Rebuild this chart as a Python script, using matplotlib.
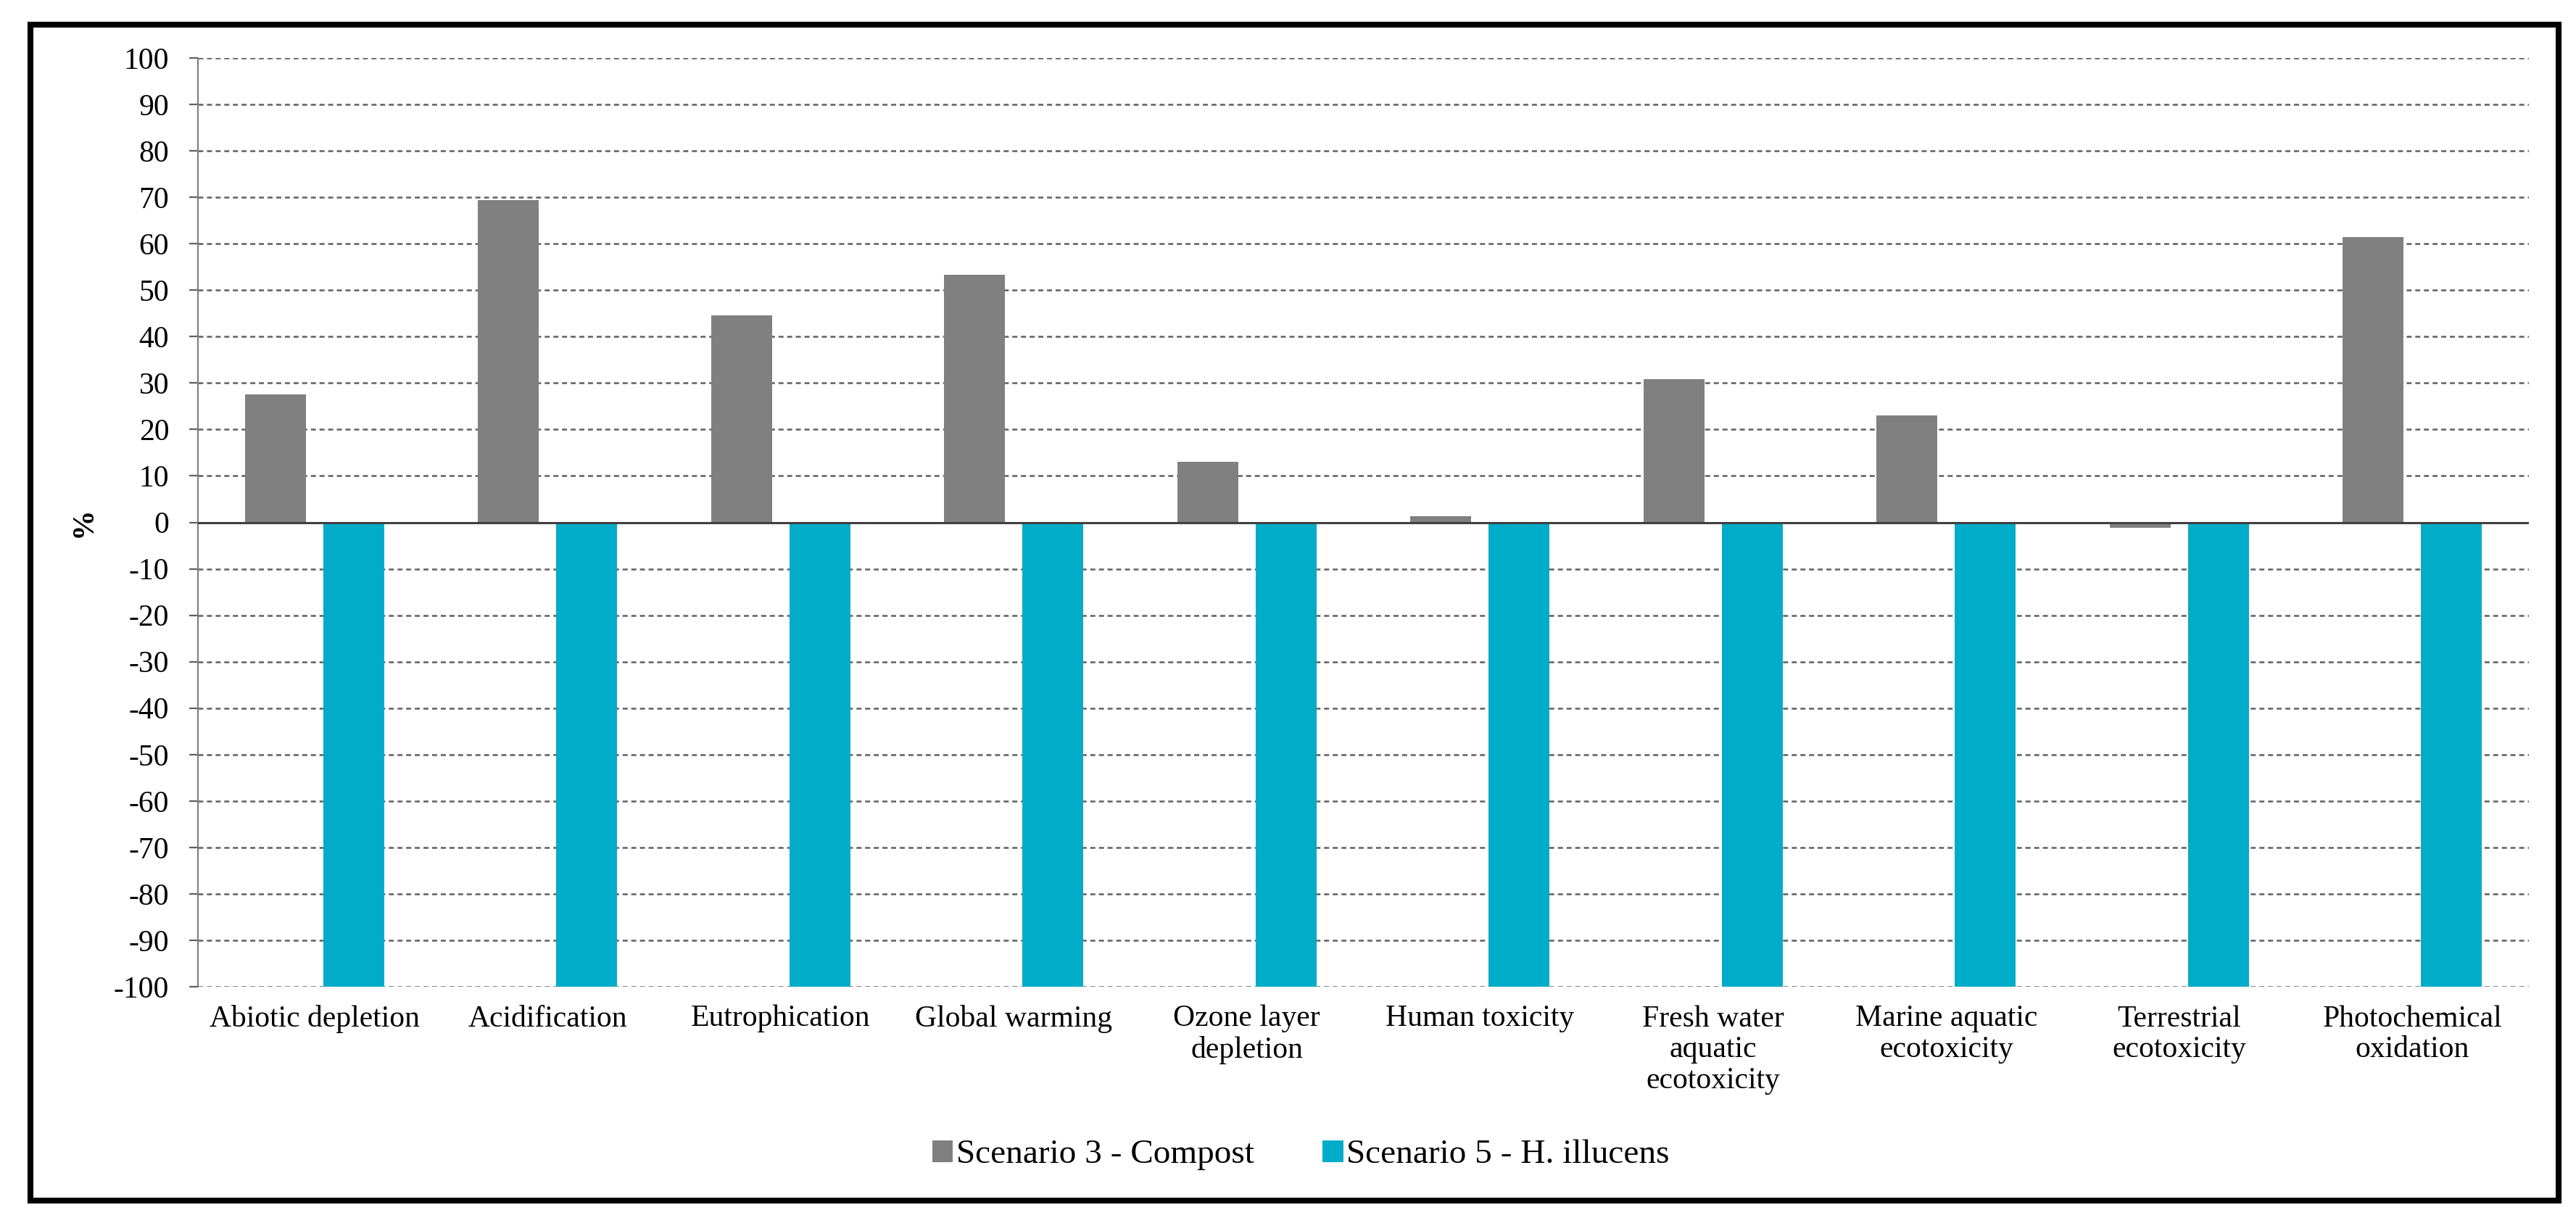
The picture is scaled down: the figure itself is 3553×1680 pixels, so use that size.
import matplotlib
matplotlib.use("Agg")
import matplotlib.pyplot as plt
import numpy as np
from matplotlib.patches import Rectangle

categories = ["Abiotic depletion", "Acidification", "Eutrophication", "Global warming",
              "Ozone layer\ndepletion", "Human toxicity", "Fresh water\naquatic\necotoxicity",
              "Marine aquatic\necotoxicity", "Terrestrial\necotoxicity", "Photochemical\noxidation"]
scenario3 = [27.5, 69.4, 44.5, 53.3, 13.0, 1.3, 30.8, 23.0, -1.2, 61.5]
scenario5 = [-100, -100, -100, -100, -100, -100, -100, -100, -100, -100]
series_names = ["Scenario 3 - Compost", "Scenario 5 - H. illucens"]
yticks = list(range(-100, 101, 10))

plt.rcParams['font.family'] = ['Liberation Serif', 'DejaVu Serif']
plt.rcParams['axes.unicode_minus'] = False
plt.rcParams['lines.scale_dashes'] = False

W, H, DPI = 3553, 1680, 200
fig = plt.figure(figsize=(W / DPI, H / DPI), dpi=DPI)
ax = fig.add_axes([273 / W, 1 - 1361 / H, (3488 - 273) / W, (1361 - 80) / H])

x = np.arange(len(categories))
bw = 0.262
off = 0.168
ax.bar(x - off, scenario3, bw, color='#808080', label=series_names[0], zorder=3)
ax.bar(x + off, scenario5, bw, color='#00ACC8', label=series_names[1], zorder=3)

ax.set_xlim(-0.5, len(categories) - 0.5)
ax.set_ylim(-100, 100)
ax.set_yticks(yticks)
ax.set_yticklabels([str(v) for v in yticks], fontsize=15)
ax.set_xticks(x)
ax.set_xticklabels(categories, fontsize=15, linespacing=1.15)
ax.tick_params(axis='x', length=0, pad=9)
ax.tick_params(axis='y', direction='out', length=4.3, width=0.8, color='#606060', pad=10)

for v in yticks:
    if v == 0:
        continue
    ax.axhline(v, color='#5f5f5f', lw=0.9, linestyle=(0, (2.5, 1.8)), zorder=1)
ax.axhline(0, color='#404040', lw=1.1, zorder=4)

for s in ['top', 'right', 'bottom']:
    ax.spines[s].set_visible(False)
ax.spines['left'].set_color('#808080')
ax.spines['left'].set_linewidth(0.8)

ax.set_ylabel('%', fontsize=15, fontweight='bold', labelpad=8)

fig.legend(loc='center', bbox_to_anchor=(0.505, 1 - 1593 / H), ncol=2, frameon=False,
           fontsize=17, handlelength=0.6, handleheight=0.6, handletextpad=0.1,
           columnspacing=2.0)

fig.patches.append(Rectangle((42 / W, 24 / H), (3529 - 42) / W, (1656 - 34) / H,
                             transform=fig.transFigure, fill=False, edgecolor='black',
                             linewidth=2.9, zorder=10))

fig.savefig('out.png', dpi=DPI)
